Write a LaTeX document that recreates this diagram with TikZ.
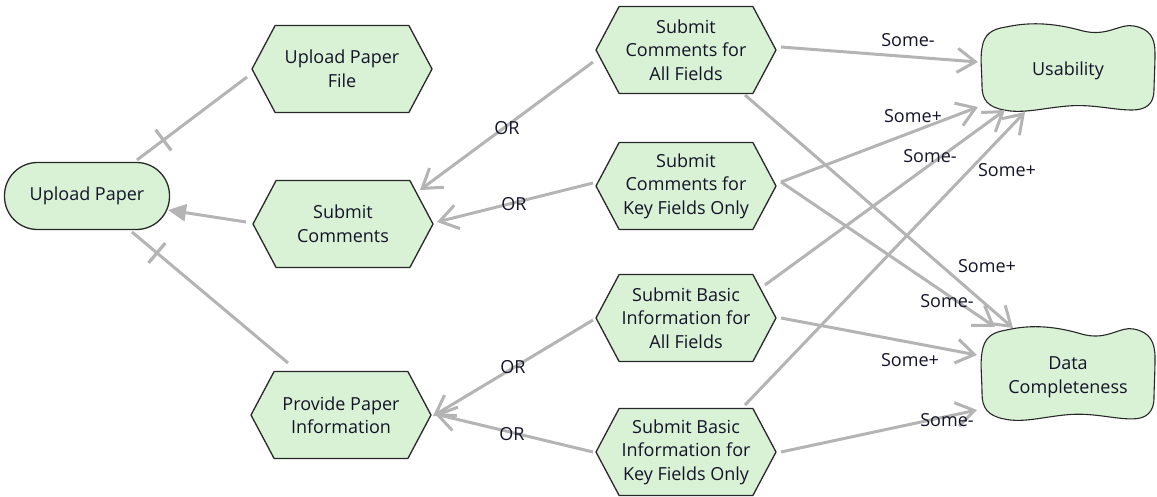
\documentclass[tikz,border=0pt]{standalone}
\usepackage{fontspec}
\setmainfont{Open Sans}
\usetikzlibrary{arrows.meta,calc,decorations.markings,shapes.symbols}

\definecolor{nodefill}{RGB}{217,242,214}
\definecolor{nodeline}{RGB}{40,40,40}
\definecolor{linkgray}{RGB}{180,180,180}
\definecolor{textcol}{RGB}{20,20,40}

\tikzset{
  base/.style={font=\fontsize{18}{23.5}\selectfont, text=textcol, align=center},
  taskhex/.style={base, signal, signal to=east and west, signal pointer angle=124,
    draw=nodeline, line width=1.3pt, fill=nodefill,
    minimum width=180pt, minimum height=87pt, inner sep=0pt},
  goalbox/.style={base, draw=nodeline, fill=nodefill, line width=1.3pt,
    rounded corners=33pt, minimum width=165pt, minimum height=67pt},
  softtext/.style={base, inner sep=0pt},
  lbl/.style={base, inner sep=1pt},
  link/.style={draw=linkgray, line width=3pt},
  openhead/.style={link, -{Straight Barb[length=18pt,width=24pt,line width=3pt]}},
  filledhead/.style={link, -{Triangle[length=18pt,width=17pt,fill=linkgray]}},
  decomp/.style={link, postaction={decorate}, decoration={markings,
    mark=at position #1 with {\draw[linkgray, line width=3.2pt] (0,-13pt) -- (0,13pt);}}},
  softgoal/.pic={
    \draw[draw=nodeline, line width=1.1pt, fill=nodefill]
      (-62,-41) .. controls (-35,-47) and (-10,-44) .. (15,-37)
      .. controls (40,-31) and (52,-45) .. (66,-42)
      .. controls (82,-39) and (87,-30) .. (87,-15)
      .. controls (87,0) and (86,15) .. (86,22)
      .. controls (86,36) and (78,42) .. (64,42)
      .. controls (45,42) and (25,36) .. (0,38)
      .. controls (-25,40) and (-45,46) .. (-64,42)
      .. controls (-80,39) and (-86,32) .. (-86,18)
      .. controls (-86,5) and (-88,-10) .. (-86,-20)
      .. controls (-84,-34) and (-76,-39) .. (-62,-41) -- cycle;
  }
}

\begin{document}
\begin{tikzpicture}[x=1pt,y=-1pt]
\useasboundingbox (0,0) rectangle (1157,497);

% goal
\node[goalbox] (upPaper) at (87,196) {Upload Paper};

% tasks, left column
\node[taskhex] (upFile) at (342,69)  {Upload Paper\\File};
\node[taskhex] (subC)   at (343,224) {Submit\\Comments};
\node[taskhex] (prov)   at (341,415) {Provide Paper\\Information};

% tasks, right column
\node[taskhex] (cAll) at (686,50)  {Submit\\Comments for\\All Fields};
\node[taskhex] (cKey) at (686,186) {Submit\\Comments for\\Key Fields Only};
\node[taskhex] (bAll) at (686,318) {Submit Basic\\Information for\\All Fields};
\node[taskhex] (bKey) at (686,452) {Submit Basic\\Information for\\Key Fields Only};

% soft goals
\pic at (1068,68) {softgoal};
\node[softtext] (usab) at (1068,71) {Usability};
\pic[yscale=1.07] at (1068,374) {softgoal};
\node[softtext] (dataC) at (1068,377) {Data\\Completeness};

% decompositions of the goal
\draw[decomp=0.76] ($(upFile)+(-95,8)$) -- ($(upPaper)+(50,-36)$);
\draw[decomp=0.84] ($(prov)+(-53,-52)$) -- ($(upPaper)+(45,36)$);
\draw[filledhead] ($(subC)+(-97,-2)$) -- ($(upPaper)+(81,14)$);

% OR refinements
\draw[openhead] ($(cAll)+(-93,12)$) -- ($(subC)+(77,-34)$);
\draw[openhead] ($(cKey)+(-93,-3)$) -- ($(subC)+(94,-2)$);
\draw[openhead] ($(bAll)+(-93,2)$) -- ($(prov)+(92,1)$);
\draw[openhead] ($(bKey)+(-93,0)$) -- ($(prov)+(94,-1)$);
\node[lbl] (or1) at (507,128) {OR};
\node[lbl] (or2) at (514,204) {OR};
\node[lbl] (or3) at (513,367) {OR};
\node[lbl] (or4) at (512,434) {OR};

% contributions to soft goals
\draw[openhead] ($(cAll)+(95,-3)$) -- ($(usab)+(-90,-9)$);
\draw[openhead] ($(cAll)+(59,45)$) -- ($(dataC)+(-55,-49)$);
\draw[openhead] ($(cKey)+(95,-4)$) -- ($(usab)+(-90,36)$);
\draw[openhead] ($(cKey)+(95,-4)$) -- ($(dataC)+(-73,-50)$);
\draw[openhead] ($(bAll)+(79,-33)$) -- ($(usab)+(-63,39)$);
\draw[openhead] ($(bKey)+(59,-47)$) -- ($(usab)+(-43,41)$);
\draw[openhead] ($(bAll)+(95,0)$) -- ($(dataC)+(-91,-22)$);
\draw[openhead] ($(bKey)+(95,0)$) -- ($(dataC)+(-91,33)$);

\node[lbl] (s1) at (908,40)  {Some-};
\node[lbl] (s2) at (913,116) {Some+};
\node[lbl] (s3) at (930,156) {Some-};
\node[lbl] (s4) at (1007,170) {Some+};
\node[lbl] (s5) at (987,266) {Some+};
\node[lbl] (s6) at (947,301) {Some-};
\node[lbl] (s7) at (910,360) {Some+};
\node[lbl] (s8) at (947,420) {Some-};
\end{tikzpicture}
\end{document}
